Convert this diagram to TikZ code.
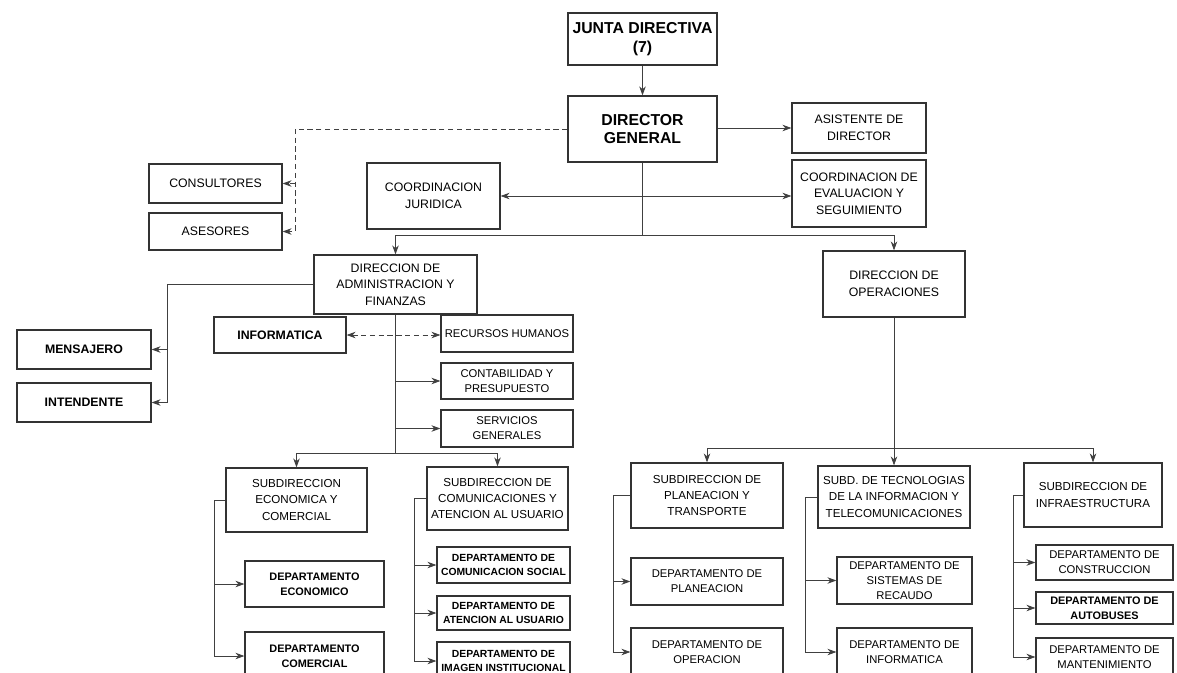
\documentclass[tikz,border=0pt]{standalone}
\usepackage{fontspec}
\setmainfont{Liberation Sans}
\usepackage{tikz}
\usetikzlibrary{positioning,arrows.meta,calc}

\begin{document}
\begin{tikzpicture}[x=0.02cm, y=-0.02cm,
    bx/.style={draw=black!80, line width=0.7pt, align=center, inner sep=1pt,
               font=\fontsize{7}{9.4}\selectfont},
    hd/.style={bx, font=\bfseries\fontsize{9}{10.5}\selectfont},
    dp/.style={bx, font=\fontsize{6.4}{8.4}\selectfont},
    sb/.style={bx, font=\fontsize{6.6}{9.2}\selectfont},
    bd/.style={font=\bfseries\fontsize{6.2}{8.4}\selectfont},
    bs/.style={font=\bfseries\fontsize{5.9}{8.2}\selectfont},
    ln/.style={draw=black!75, line width=0.45pt},
    ar/.style={ln, -{Stealth[length=1.8mm,width=1.3mm]}},
    ab/.style={ln, {Stealth[length=1.8mm,width=1.3mm]}-{Stealth[length=1.8mm,width=1.3mm]}},
    da/.style={ar, dash pattern=on 3pt off 2pt},
    db/.style={ab, dash pattern=on 3pt off 2pt},
]
\useasboundingbox (0,0) rectangle (1177,673);
\fill[white] (0,0) rectangle (1177,673);

% === Top: board and director ===
\node[hd, minimum width=2.98cm, minimum height=1.04cm] at (642.5,39) (jd) {JUNTA DIRECTIVA\\(7)};
\node[hd, minimum width=2.98cm, minimum height=1.32cm] at (642.5,129) (dg) {DIRECTOR\\GENERAL};
\node[bx, minimum width=2.68cm, minimum height=1.0cm] at (859,128) (asis) {ASISTENTE DE\\DIRECTOR};
\node[bx, minimum width=2.68cm, minimum height=1.34cm] at (859,193.5) (ceval) {COORDINACION DE\\EVALUACION Y\\SEGUIMIENTO};
\node[bx, minimum width=2.66cm, minimum height=0.78cm] at (215.5,183.5) (cons) {CONSULTORES};
\node[bx, minimum width=2.66cm, minimum height=0.74cm] at (215.5,231.5) (ases) {ASESORES};
\node[bx, minimum width=2.66cm, minimum height=1.32cm] at (433.5,196) (cjur) {COORDINACION\\JURIDICA};

% === Directions ===
\node[bx, minimum width=3.26cm, minimum height=1.18cm] at (395.5,284.5) (dadm) {DIRECCION DE\\ADMINISTRACION Y\\FINANZAS};
\node[bx, minimum width=2.84cm, minimum height=1.32cm] at (894,284) (doper) {DIRECCION DE\\OPERACIONES};

% === Administration staff ===
\node[bx, font=\bfseries\fontsize{7}{9}\selectfont, minimum width=2.68cm, minimum height=0.78cm] at (84,349.5) (mens) {MENSAJERO};
\node[bx, font=\bfseries\fontsize{7}{9}\selectfont, minimum width=2.68cm, minimum height=0.78cm] at (84,402.5) (inten) {INTENDENTE};
\node[bx, font=\bfseries\fontsize{7}{9}\selectfont, minimum width=2.64cm, minimum height=0.72cm] at (280,335) (info) {INFORMATICA};
\node[dp, minimum width=2.64cm, minimum height=0.74cm] at (507,333.5) (rrhh) {RECURSOS HUMANOS};
\node[dp, minimum width=2.64cm, minimum height=0.72cm] at (507,381) (cont) {CONTABILIDAD Y\\PRESUPUESTO};
\node[dp, minimum width=2.64cm, minimum height=0.74cm] at (507,428.5) (serv) {SERVICIOS\\GENERALES};

% === Subdirections ===
\node[sb, minimum width=2.82cm, minimum height=1.28cm] at (296.5,500) (secon) {SUBDIRECCION\\ECONOMICA Y\\COMERCIAL};
\node[sb, minimum width=2.82cm, minimum height=1.26cm] at (497.5,498.5) (scom) {SUBDIRECCION DE\\COMUNICACIONES Y\\ATENCION AL USUARIO};
\node[sb, minimum width=3.04cm, minimum height=1.3cm] at (707,495.5) (splan) {SUBDIRECCION DE\\PLANEACION Y\\TRANSPORTE};
\node[sb, minimum width=3.04cm, minimum height=1.24cm] at (894,497) (stec) {SUBD. DE TECNOLOGIAS\\DE LA INFORMACION Y\\TELECOMUNICACIONES};
\node[sb, minimum width=2.76cm, minimum height=1.28cm] at (1093,495) (sinfra) {SUBDIRECCION DE\\INFRAESTRUCTURA};

% === Departments ===
\node[dp, bd, minimum width=2.78cm, minimum height=0.92cm] at (314.5,584) (decon) {DEPARTAMENTO\\ECONOMICO};
\node[dp, bd, minimum width=2.78cm, minimum height=0.96cm] at (314.5,656) (dcomer) {DEPARTAMENTO\\COMERCIAL};
\node[dp, bs, minimum width=2.66cm, minimum height=0.72cm] at (503.5,565) (dcsoc) {DEPARTAMENTO DE\\COMUNICACION SOCIAL};
\node[dp, bs, minimum width=2.66cm, minimum height=0.68cm] at (503.5,613) (datus) {DEPARTAMENTO DE\\ATENCION AL USUARIO};
\node[dp, bs, minimum width=2.66cm, minimum height=0.76cm] at (503.5,661) (dimag) {DEPARTAMENTO DE\\IMAGEN INSTITUCIONAL};
\node[dp, minimum width=3.04cm, minimum height=0.94cm] at (707,581.5) (dplan) {DEPARTAMENTO DE\\PLANEACION};
\node[dp, minimum width=3.04cm, minimum height=0.96cm] at (707,652) (dope) {DEPARTAMENTO DE\\OPERACION};
\node[dp, minimum width=2.7cm, minimum height=0.94cm] at (904.5,580.5) (dsis) {DEPARTAMENTO DE\\SISTEMAS DE\\RECAUDO};
\node[dp, minimum width=2.7cm, minimum height=0.96cm] at (904.5,652) (dinf) {DEPARTAMENTO DE\\INFORMATICA};
\node[dp, minimum width=2.74cm, minimum height=0.7cm] at (1104.5,562.5) (dcons) {DEPARTAMENTO DE\\CONSTRUCCION};
\node[dp, bd, minimum width=2.74cm, minimum height=0.64cm] at (1104.5,608) (dauto) {DEPARTAMENTO DE\\AUTOBUSES};
\node[dp, minimum width=2.74cm, minimum height=0.76cm] at (1104.5,657) (dmant) {DEPARTAMENTO DE\\MANTENIMIENTO};

% --- Arrows: top ---
\draw[ar] (jd) -- (dg);
\draw[ar] (dg.east |- asis.west) -- (asis.west);
\draw[da] (dg.west) -- ++(-272.5,0) coordinate (advbus) |- (ases.east);
\draw[da] (advbus |- cons.east) -- (cons.east);
\draw[ln] (dg.south) -- ++(0,73) coordinate (dgbus);
\draw[ar] (dgbus) -| (dadm.north);
\draw[ar] (dgbus) -| (doper.north);
\draw[ab] (cjur.east) -- (cjur.east -| ceval.west);

% --- Arrows: administration ---
\draw[ln] (dadm.west) -- ++(-146,0) coordinate (stbus);
\draw[ar] (stbus) |- (inten.east);
\draw[ar] (stbus |- mens.east) -- (mens.east);
\draw[ln] (dadm.south) -- ++(0,138.5) coordinate (sabus);
\draw[db] (info.east) -- (info.east -| rrhh.west);
\draw[ar] (dadm.south |- cont.west) -- (cont.west);
\draw[ar] (dadm.south |- serv.west) -- (serv.west);
\draw[ar] (sabus) -| (secon.north);
\draw[ar] (sabus) -| (scom.north);

% --- Arrows: operations ---
\draw[ln] (doper.south) -- ++(0,131) coordinate (sobus);
\draw[ar] (sobus) -| (splan.north);
\draw[ar] (sobus) -- (stec.north);
\draw[ar] (sobus) -| (sinfra.north);

% --- Arrows: departments ---
\draw[ln] (secon.west) -- ++(-11,0) coordinate (ebus);
\draw[ar] (ebus) |- (dcomer.west);
\draw[ar] (ebus |- decon.west) -- (decon.west);
\draw[ln] (scom.west) -- ++(-12,0) coordinate (cbus);
\draw[ar] (cbus) |- (dimag.west);
\draw[ar] (cbus |- dcsoc.west) -- (dcsoc.west);
\draw[ar] (cbus |- datus.west) -- (datus.west);
\draw[ln] (splan.west) -- ++(-17,0) coordinate (pbus);
\draw[ar] (pbus) |- (dope.west);
\draw[ar] (pbus |- dplan.west) -- (dplan.west);
\draw[ln] (stec.west) -- ++(-12,0) coordinate (tbus);
\draw[ar] (tbus) |- (dinf.west);
\draw[ar] (tbus |- dsis.west) -- (dsis.west);
\draw[ln] (sinfra.west) -- ++(-10,0) coordinate (ibus);
\draw[ar] (ibus) |- (dmant.west);
\draw[ar] (ibus |- dcons.west) -- (dcons.west);
\draw[ar] (ibus |- dauto.west) -- (dauto.west);

\end{tikzpicture}
\end{document}
